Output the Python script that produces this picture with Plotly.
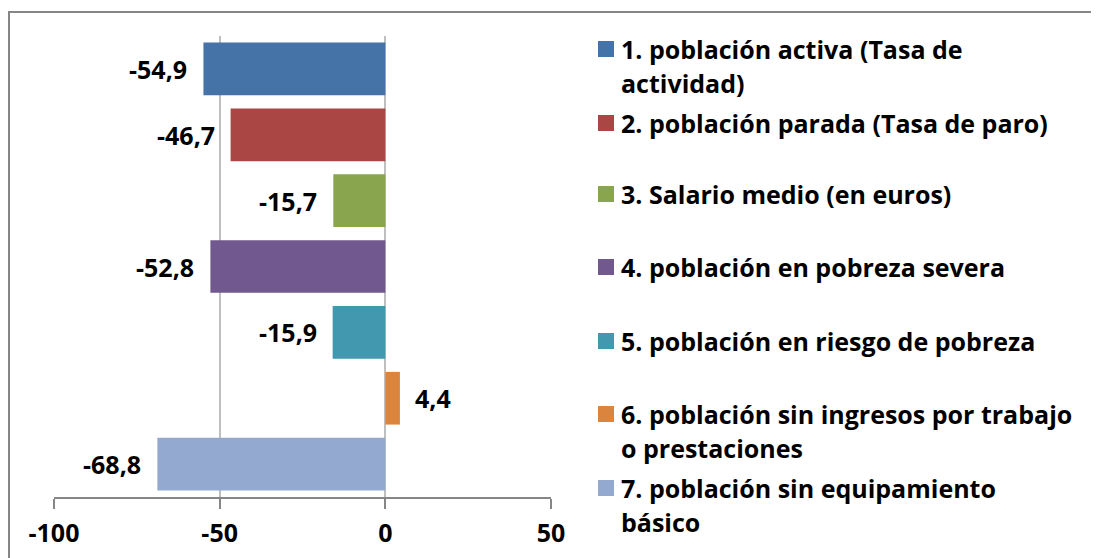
import plotly.graph_objects as go

# categories (top to bottom) and values
categories = [
    "1. población activa (Tasa de actividad)",
    "2. población parada (Tasa de paro)",
    "3. Salario medio (en euros)",
    "4. población en pobreza severa",
    "5. población en riesgo de pobreza",
    "6. población sin ingresos por trabajo o prestaciones",
    "7. población sin equipamiento básico",
]
values = [-54.9, -46.7, -15.7, -52.8, -15.9, 4.4, -68.8]
legend_lines = [
    ["1. población activa (Tasa de", "actividad)"],
    ["2. población parada (Tasa de paro)"],
    ["3. Salario medio (en euros)"],
    ["4. población en pobreza severa"],
    ["5. población en riesgo de pobreza"],
    ["6. población sin ingresos por trabajo", "o prestaciones"],
    ["7. población sin equipamiento", "básico"],
]
x_ticks = [-100, -50, 0, 50]

colors = ["#4572A7", "#AA4643", "#89A54E", "#71588F", "#4198AF", "#DB843D", "#93A9CF"]

# page body has an 8px margin, so the figure sits at (8, 8) on screen
OFF = 8
W, H = 1099, 558
L, R, T, B = 46, 556, 28, 69
pw, ph = W - L - R, H - T - B

def px_x(p):
    # screen px -> paper x
    return (p - OFF - L) / pw

def px_y(p):
    # screen px -> paper y
    return (H - B - (p - OFF)) / ph

FONT = dict(family="'Open Sans', Lato, sans-serif", size=25, color="#000000", weight="bold")

fig = go.Figure()
fig.add_trace(go.Bar(
    x=values, y=categories, orientation="h",
    marker=dict(color=colors, line=dict(width=0)),
    showlegend=False, hoverinfo="x+y",
))

# data labels
for cat, v in zip(categories, values):
    txt = f"{v:.1f}".replace(".", ",")
    fig.add_annotation(
        x=v, y=cat, text=txt, showarrow=False,
        xanchor="right" if v < 0 else "left",
        xshift=-14 if v < 0 else 13,
        font=FONT,
    )

# legend drawn by hand (Excel spreads entries over the height)
legend_y = [49, 123, 194, 267, 341, 414, 488]
line_gap = 34
for i, lines in enumerate(legend_lines):
    y0 = legend_y[i]
    fig.add_shape(
        type="rect", xref="paper", yref="paper",
        x0=px_x(598), x1=px_x(614), y0=px_y(y0 - 8), y1=px_y(y0 + 8),
        fillcolor=colors[i], line=dict(width=0),
    )
    for j, line in enumerate(lines):
        fig.add_annotation(
            xref="paper", yref="paper", x=px_x(619), y=px_y(y0 + j * line_gap),
            text=line, showarrow=False, xanchor="left", yanchor="middle",
            font=FONT,
        )

# outer chart border (only top/left visible in the crop)
fig.add_shape(
    type="rect", xref="paper", yref="paper", layer="above",
    x0=px_x(9), x1=px_x(1120), y0=px_y(590), y1=px_y(12),
    line=dict(color="#868686", width=2), fillcolor="rgba(0,0,0,0)",
)

fig.update_layout(
    width=W, height=H,
    margin=dict(l=L, r=R, t=T, b=B),
    plot_bgcolor="#FFFFFF", paper_bgcolor="#FFFFFF",
    bargap=0.2,
    font=FONT,
    xaxis=dict(
        range=[-100, 50], tickvals=x_ticks, ticktext=[str(t) for t in x_ticks],
        showgrid=True, gridcolor="#BFBFBF", gridwidth=2,
        zeroline=False,
        showline=True, linecolor="#868686", linewidth=2,
        ticks="outside", ticklen=10, tickwidth=2, tickcolor="#868686",
        ticklabelstandoff=3,
        tickfont=FONT,
    ),
    yaxis=dict(
        autorange="reversed", showticklabels=False, showgrid=False,
        zeroline=False, showline=False, ticks="",
    ),
)

fig.write_html("out.html")
